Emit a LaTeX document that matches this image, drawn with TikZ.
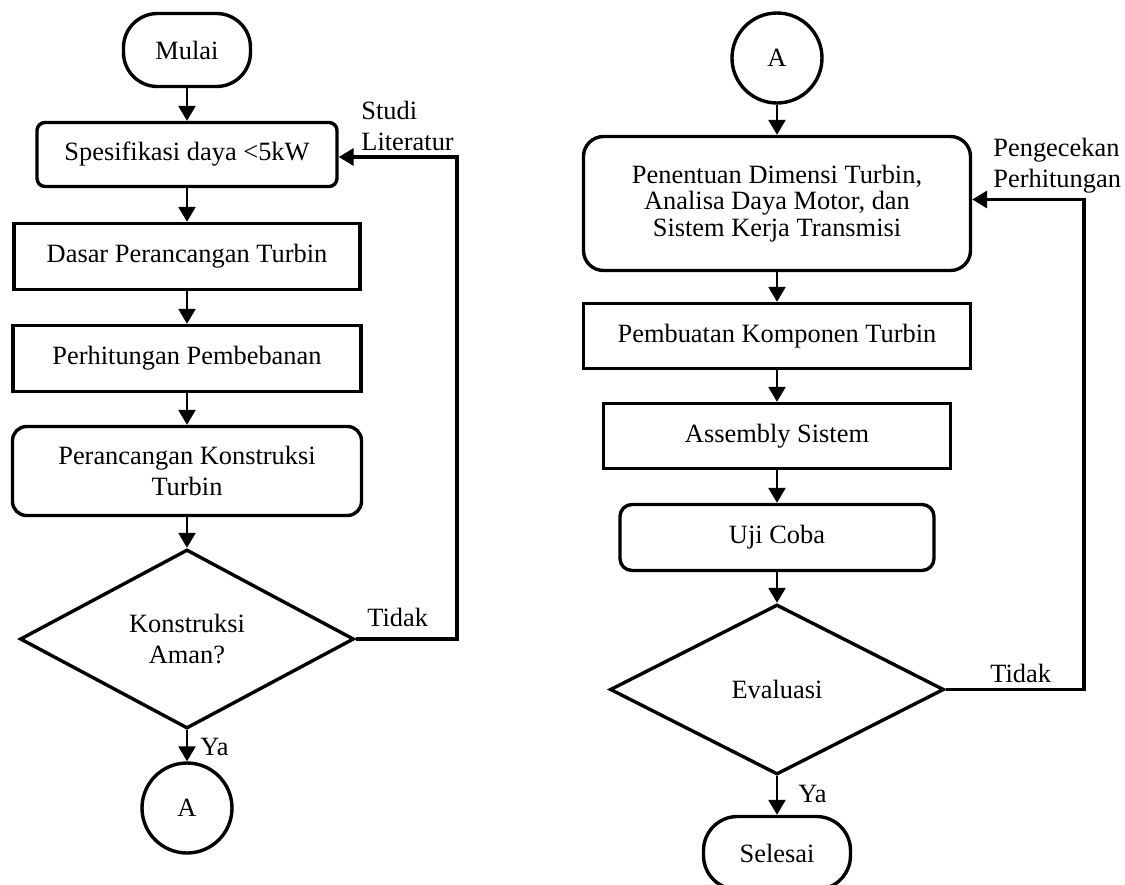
\documentclass[tikz,border=0pt]{standalone}
\usepackage{fontspec}
\setmainfont{Liberation Serif}
\usetikzlibrary{shapes.geometric,arrows.meta}

\begin{document}
\begin{tikzpicture}[
  x = 0.5pt, y = -0.5pt,
  every node/.style = {font = \fontsize{13.2}{15.5}\selectfont, align = center, inner sep = 0pt},
  proses/.style = {draw, line width = 1.7pt, rectangle},
  bulat/.style = {proses, rounded corners = 5pt},
  terminal/.style = {proses, rounded corners = 17pt, minimum width = 63.5pt, minimum height = 36.5pt},
  keputusan/.style = {draw, line width = 1.7pt, diamond, minimum width = 167pt, minimum height = 89.5pt},
  konektor/.style = {draw, line width = 1.7pt, circle, minimum size = 45pt},
  panah/.style = {line width = 1.3pt, -{Triangle[width = 8.5pt, length = 7.5pt]}},
  balik/.style = {line width = 1.7pt, -{Triangle[width = 8.5pt, length = 7.5pt]}},
  ]
  \useasboundingbox (0,0) rectangle (1125,884);

  \node[terminal] (mulai) at (187,50) {Mulai};
  \node[bulat, rounded corners = 4pt, minimum width = 150pt, minimum height = 32pt] (spek) at (187,154.5) {Spesifikasi daya <5kW};
  \node[proses, minimum width = 173pt, minimum height = 33pt] (dasar) at (187,256.5) {Dasar Perancangan Turbin};
  \node[proses, minimum width = 174pt, minimum height = 33pt] (hitung) at (187,358.5) {Perhitungan Pembebanan};
  \node[bulat, rounded corners = 7pt, minimum width = 174.5pt, minimum height = 44.5pt] (rancang) at (187,471) {Perancangan Konstruksi\\Turbin};
  \node[keputusan] (aman) at (187,639) {Konstruksi\\Aman?};
  \node[konektor] (ka) at (187,808) {A};

  \node[konektor] (kb) at (777,58) {A};
  \node[bulat, rounded corners = 10pt, minimum width = 193.5pt, minimum height = 67pt,
        font = \fontsize{13.2}{13.3}\selectfont] (tentu) at (777,203.5) {Penentuan Dimensi Turbin,\\Analisa Daya Motor, dan\\Sistem Kerja Transmisi};
  \node[proses, minimum width = 193.5pt, minimum height = 32.5pt] (buat) at (777,336) {Pembuatan Komponen Turbin};
  \node[proses, minimum width = 173.5pt, minimum height = 32.5pt] (rakit) at (777,436) {Assembly Sistem};
  \node[bulat, rounded corners = 6pt, minimum width = 157pt, minimum height = 33pt] (uji) at (777,537.5) {Uji Coba};
  \node[keputusan, minimum height = 85pt] (eval) at (777,689.5) {Evaluasi};
  \node[terminal, minimum width = 73.5pt] (selesai) at (777,853) {Selesai};

  \node[anchor = west, align = left] (studi) at (361,126) {Studi\\Literatur};
  \node[anchor = base west] (tidak1) at (367,626) {Tidak};
  \node[anchor = base west] (ya1) at (200,755) {Ya};
  \node[anchor = west, align = left] (cek) at (993,166) {Pengecekan\\Perhitungan};
  \node[anchor = base west] (tidak2) at (990,682) {Tidak};
  \node[anchor = base west] (ya2) at (798,802) {Ya};

  \foreach \a/\b in {mulai/spek, spek/dasar, dasar/hitung, hitung/rancang, rancang/aman, aman/ka,
                     kb/tentu, tentu/buat, buat/rakit, rakit/uji, uji/eval, eval/selesai}
    \draw[panah] (\a) -- (\b);

  \coordinate (putarkiri) at (457,639);
  \draw[balik] (aman.east) -- (putarkiri) |- ([yshift = -1.25pt]spek.east);
  \coordinate (putarkanan) at (1084,689.5);
  \draw[balik] (eval.east) -- (putarkanan) |- ([yshift = 2pt]tentu.east);
\end{tikzpicture}
\end{document}
